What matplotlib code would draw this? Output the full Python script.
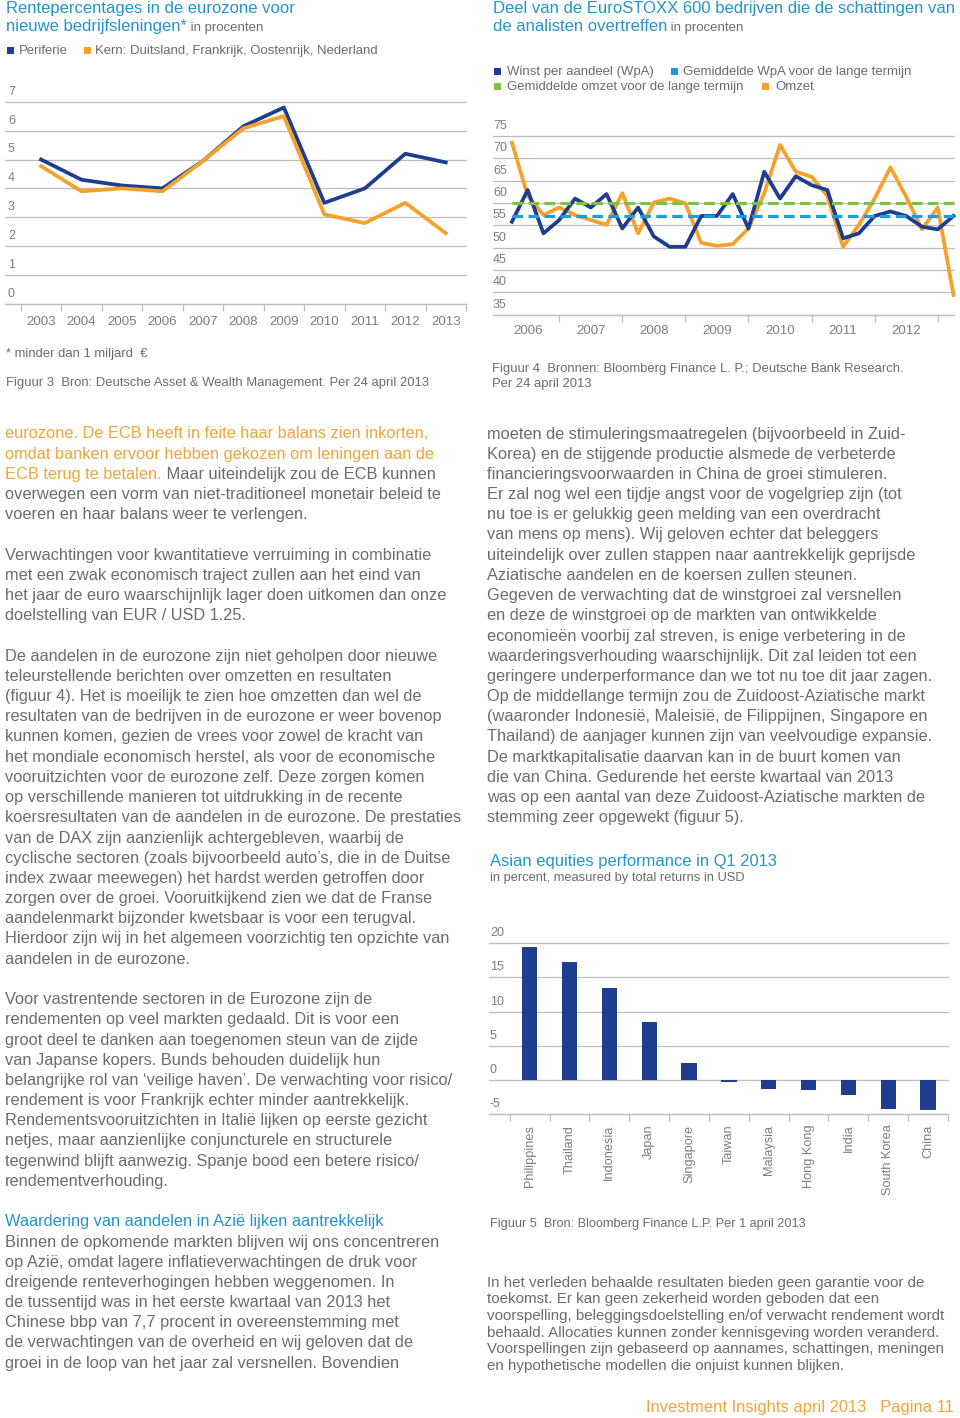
import matplotlib
matplotlib.use('Agg')
import matplotlib.pyplot as plt
from matplotlib.patches import Rectangle

# ---------------- DATA ----------------
years1 = ['2003', '2004', '2005', '2006', '2007', '2008', '2009', '2010', '2011', '2012', '2013']
periferie = [5.0, 4.3, 4.1, 4.0, 4.95, 6.15, 6.8, 3.5, 4.0, 5.2, 4.9]
kern = [4.77, 3.9, 4.0, 3.9, 4.95, 6.08, 6.5, 3.1, 2.8, 3.5, 2.45]
yticks1 = [0, 1, 2, 3, 4, 5, 6, 7]

quarters = ['2006Q2', '2006Q3', '2006Q4',
            '2007Q1', '2007Q2', '2007Q3', '2007Q4',
            '2008Q1', '2008Q2', '2008Q3', '2008Q4',
            '2009Q1', '2009Q2', '2009Q3', '2009Q4',
            '2010Q1', '2010Q2', '2010Q3', '2010Q4',
            '2011Q1', '2011Q2', '2011Q3', '2011Q4',
            '2012Q1', '2012Q2', '2012Q3', '2012Q4',
            '2013Q1', '2013Q2']
wpa = [55.8, 62.9, 53.2, 56.2, 61.0, 59.0, 62.0, 54.3, 59.0, 52.5, 50.2,
       50.2, 57.1, 57.1, 62.0, 54.3, 67.0, 61.0, 66.0, 64.0, 62.9, 52.1,
       53.2, 57.1, 58.1, 57.1, 54.7, 54.1, 57.1]
omzet = [73.5, 61.6, 57.3, 59.0, 57.3, 56.2, 55.1, 62.2, 53.2, 60.1, 61.0,
         59.9, 51.1, 50.4, 50.8, 54.3, 62.2, 73.0, 67.0, 65.9, 61.6, 50.2,
         55.1, 61.0, 68.0, 61.4, 54.1, 59.0, 39.4]
avg_wpa = 57.1
avg_omzet = 60.0
years2 = ['2006', '2007', '2008', '2009', '2010', '2011', '2012']
yticks2 = [35, 40, 45, 50, 55, 60, 65, 70, 75]

countries = ['Philippines', 'Thailand', 'Indonesia', 'Japan', 'Singapore', 'Taiwan',
             'Malaysia', 'Hong Kong', 'India', 'South Korea', 'China']
returns = [19.4, 17.2, 13.4, 8.5, 2.5, -0.3, -1.3, -1.4, -2.2, -4.2, -4.3]
yticks3 = [-5, 0, 5, 10, 15, 20]

# ---------------- STYLE ----------------
W, H = 960, 1418
plt.rcParams['font.family'] = ['Liberation Sans', 'DejaVu Sans']
LIGHT = 'normal'

TXT = '#6a6c6f'
HEAD = '#2394cd'
ORANGE = '#f5a12a'
ORANGE_TXT = '#eea53a'
NAVY = '#1f3d8f'
GRID = '#bcbcbc'
TICK = '#7b7d80'
LBLUE = '#1c9be2'
GREEN = '#7bc143'

fig = plt.figure(figsize=(W / 100, H / 100), dpi=100)
fig.patch.set_facecolor('white')
renderer = fig.canvas.get_renderer()


def measure(s, size, weight):
    t = fig.text(0, 0, s, fontsize=size, fontweight=weight)
    w = t.get_window_extent(renderer).width
    t.remove()
    return w


def fit(s, target, weight=LIGHT):
    return 10.0 * target / measure(s, 10.0, weight)


def base_from_center(yc, size):
    return yc + 0.27 * size * 100 / 72


def line(x, yb, segs, size, weight=LIGHT, ha='left'):
    cur = x
    for s, c, sz in segs:
        t = fig.text(cur / W, 1 - yb / H, s, fontsize=sz if sz else size, color=c,
                     fontweight=weight, va='baseline', ha=ha)
        cur = t.get_window_extent(renderer).x1
    return cur


def square(x, yc, s, color):
    fig.add_artist(Rectangle((x / W, 1 - (yc + s / 2) / H), s / W, s / H,
                             transform=fig.transFigure, color=color, lw=0))


def add_ax(x0, y0, x1, y1):
    ax = fig.add_axes([x0 / W, 1 - y1 / H, (x1 - x0) / W, (y1 - y0) / H])
    ax.set_facecolor('none')
    for s in ['top', 'right', 'left']:
        ax.spines[s].set_visible(False)
    ax.spines['bottom'].set_color(GRID)
    ax.spines['bottom'].set_linewidth(0.9)
    ax.tick_params(axis='y', length=0, labelleft=False)
    return ax


def ylabels(ax, ticks, dx, dy, size=9):
    for v in ticks:
        ax.axhline(v, color=GRID, lw=0.9, zorder=0, clip_on=False)
        ax.annotate(str(v), xy=(0, v), xycoords=ax.get_yaxis_transform(),
                    xytext=(dx, dy), textcoords='offset pixels', ha='left', va='center',
                    fontsize=size, color=TICK, fontweight=LIGHT)


# sizes
title_sz = fit('Rentepercentages in de eurozone voor', 289, 'normal')
small_sz = fit('in procenten', 73)
leg_sz = fit('Kern: Duitsland, Frankrijk, Oostenrijk, Nederland', 283)
cap_sz = fit('Figuur 3  Bron: Deutsche Asset & Wealth Management. Per 24 april 2013', 423)
body_sz = fit('eurozone. De ECB heeft in feite haar balans zien inkorten,', 423)
disc_sz = fit('voorspelling, beleggingsdoelstelling en/of verwacht rendement wordt', 459)
foot_sz = fit('Investment Insights april 2013   Pagina 11', 306)
tick_sz = 9.6

# ---------------- CHART 1 ----------------
line(6, base_from_center(9, title_sz), [('Rentepercentages in de eurozone voor', HEAD, None)], title_sz, 'normal')
e = line(6, base_from_center(27, title_sz), [('nieuwe bedrijfsleningen*', HEAD, None)], title_sz, 'normal')
line(e, base_from_center(27, title_sz), [(' in procenten', TXT, small_sz)], small_sz)
square(7, 50.5, 7, NAVY)
line(19, base_from_center(50.5, leg_sz), [('Periferie', TXT, None)], leg_sz)
square(84, 50.5, 7, ORANGE)
line(95, base_from_center(50.5, leg_sz), [('Kern: Duitsland, Frankrijk, Oostenrijk, Nederland', TXT, None)], leg_sz)

ax1 = add_ax(5, 101.7, 466, 304)
x1 = list(range(len(years1)))
ax1.plot(x1, periferie, color=NAVY, lw=2.7, zorder=3)
ax1.plot(x1, kern, color=ORANGE, lw=2.7, zorder=4)
ax1.set_xlim(-0.89, len(years1) - 0.5)
ax1.set_ylim(min(yticks1), max(yticks1))
ylabels(ax1, yticks1, 3, 10)
ax1.set_xticks([i - 0.5 for i in range(len(years1) + 1)])
ax1.set_xticks(x1, minor=True)
ax1.set_xticklabels(years1, minor=True)
ax1.tick_params(axis='x', which='major', length=5, color=GRID, width=0.9, labelbottom=False)
ax1.tick_params(axis='x', which='minor', length=0, pad=8.5, labelsize=tick_sz, labelcolor=TICK)

line(6, base_from_center(353, cap_sz), [('* minder dan 1 miljard  €', TXT, None)], cap_sz)
line(6, base_from_center(382, cap_sz), [('Figuur 3  Bron: Deutsche Asset & Wealth Management. Per 24 april 2013', TXT, None)], cap_sz)

# ---------------- CHART 2 ----------------
t2sz = fit('Deel van de EuroSTOXX 600 bedrijven die de schattingen van', 462, 'normal')
line(493, base_from_center(9, t2sz), [('Deel van de EuroSTOXX 600 bedrijven die de schattingen van', HEAD, None)], t2sz, 'normal')
e = line(493, base_from_center(27, t2sz), [('de analisten overtreffen', HEAD, None)], t2sz, 'normal')
line(e, base_from_center(27, t2sz), [(' in procenten', TXT, small_sz)], small_sz)
square(494, 71, 7, NAVY)
line(507, base_from_center(71, leg_sz), [('Winst per aandeel (WpA)', TXT, None)], leg_sz)
square(671, 71, 7, LBLUE)
line(683, base_from_center(71, leg_sz), [('Gemiddelde WpA voor de lange termijn', TXT, None)], leg_sz)
square(494, 86, 7, GREEN)
line(507, base_from_center(86, leg_sz), [('Gemiddelde omzet voor de lange termijn', TXT, None)], leg_sz)
square(762, 86, 7, ORANGE)
line(775, base_from_center(86, leg_sz), [('Omzet', TXT, None)], leg_sz)

ax2 = add_ax(493, 136, 953.5, 314.7)
xq = [int(q[:4]) + (int(q[-1]) - 1) / 4 for q in quarters]
ax2.plot(xq, omzet, color=ORANGE, lw=2.7, zorder=3, clip_on=False)
ax2.plot(xq, wpa, color=NAVY, lw=2.7, zorder=4, clip_on=False)
ax2.plot([xq[0], xq[-1]], [avg_omzet, avg_omzet], color=GREEN, lw=2.3,
         dashes=(3.3, 1.7), zorder=5, clip_on=False)
ax2.plot([xq[0], xq[-1]], [avg_wpa, avg_wpa], color=LBLUE, lw=2.3,
         dashes=(3.3, 1.7), zorder=5, clip_on=False)
ax2.set_xlim(2005.95, 2013.25)
ax2.set_ylim(min(yticks2), max(yticks2))
ylabels(ax2, yticks2, 0, 10)
ax2.set_xticks([int(y) + 1 for y in years2])
ax2.set_xticks([int(y) + 0.5 for y in years2], minor=True)
ax2.set_xticklabels(years2, minor=True)
ax2.tick_params(axis='x', which='major', length=5, color=GRID, width=0.9, labelbottom=False)
ax2.tick_params(axis='x', which='minor', length=0, pad=7.5, labelsize=tick_sz, labelcolor=TICK)

line(492, base_from_center(368, cap_sz), [('Figuur 4  Bronnen: Bloomberg Finance L. P.; Deutsche Bank Research.', TXT, None)], cap_sz)
line(492, base_from_center(383, cap_sz), [('Per 24 april 2013', TXT, None)], cap_sz)

# ---------------- BODY TEXT ----------------
O, G, B = ORANGE_TXT, TXT, HEAD
left = {
    0: [('eurozone. De ECB heeft in feite haar balans zien inkorten,', O)],
    1: [('omdat banken ervoor hebben gekozen om leningen aan de', O)],
    2: [('ECB terug te betalen.', O), (' Maar uiteindelijk zou de ECB kunnen', G)],
    3: [('overwegen een vorm van niet-traditioneel monetair beleid te', G)],
    4: [('voeren en haar balans weer te verlengen.', G)],
    6: [('Verwachtingen voor kwantitatieve verruiming in combinatie', G)],
    7: [('met een zwak economisch traject zullen aan het eind van', G)],
    8: [('het jaar de euro waarschijnlijk lager doen uitkomen dan onze', G)],
    9: [('doelstelling van EUR / USD 1.25.', G)],
    11: [('De aandelen in de eurozone zijn niet geholpen door nieuwe', G)],
    12: [('teleurstellende berichten over omzetten en resultaten', G)],
    13: [('(figuur 4). Het is moeilijk te zien hoe omzetten dan wel de', G)],
    14: [('resultaten van de bedrijven in de eurozone er weer bovenop', G)],
    15: [('kunnen komen, gezien de vrees voor zowel de kracht van', G)],
    16: [('het mondiale economisch herstel, als voor de economische', G)],
    17: [('vooruitzichten voor de eurozone zelf. Deze zorgen komen', G)],
    18: [('op verschillende manieren tot uitdrukking in de recente', G)],
    19: [('koersresultaten van de aandelen in de eurozone. De prestaties', G)],
    20: [('van de DAX zijn aanzienlijk achtergebleven, waarbij de', G)],
    21: [('cyclische sectoren (zoals bijvoorbeeld auto’s, die in de Duitse', G)],
    22: [('index zwaar meewegen) het hardst werden getroffen door', G)],
    23: [('zorgen over de groei. Vooruitkijkend zien we dat de Franse', G)],
    24: [('aandelenmarkt bijzonder kwetsbaar is voor een terugval.', G)],
    25: [('Hierdoor zijn wij in het algemeen voorzichtig ten opzichte van', G)],
    26: [('aandelen in de eurozone.', G)],
    28: [('Voor vastrentende sectoren in de Eurozone zijn de', G)],
    29: [('rendementen op veel markten gedaald. Dit is voor een', G)],
    30: [('groot deel te danken aan toegenomen steun van de zijde', G)],
    31: [('van Japanse kopers. Bunds behouden duidelijk hun', G)],
    32: [('belangrijke rol van ‘veilige haven’. De verwachting voor risico/', G)],
    33: [('rendement is voor Frankrijk echter minder aantrekkelijk.', G)],
    34: [('Rendementsvooruitzichten in Italië lijken op eerste gezicht', G)],
    35: [('netjes, maar aanzienlijke conjuncturele en structurele', G)],
    36: [('tegenwind blijft aanwezig. Spanje bood een betere risico/', G)],
    37: [('rendementverhouding.', G)],
    39: [('Waardering van aandelen in Azië lijken aantrekkelijk', B)],
    40: [('Binnen de opkomende markten blijven wij ons concentreren', G)],
    41: [('op Azië, omdat lagere inflatieverwachtingen de druk voor', G)],
    42: [('dreigende renteverhogingen hebben weggenomen. In', G)],
    43: [('de tussentijd was in het eerste kwartaal van 2013 het', G)],
    44: [('Chinese bbp van 7,7 procent in overeenstemming met', G)],
    45: [('de verwachtingen van de overheid en wij geloven dat de', G)],
    46: [('groei in de loop van het jaar zal versnellen. Bovendien', G)],
}
right = [
    'moeten de stimuleringsmaatregelen (bijvoorbeeld in Zuid-',
    'Korea) en de stijgende productie alsmede de verbeterde',
    'financieringsvoorwaarden in China de groei stimuleren.',
    'Er zal nog wel een tijdje angst voor de vogelgriep zijn (tot',
    'nu toe is er gelukkig geen melding van een overdracht',
    'van mens op mens). Wij geloven echter dat beleggers',
    'uiteindelijk over zullen stappen naar aantrekkelijk geprijsde',
    'Aziatische aandelen en de koersen zullen steunen.',
    'Gegeven de verwachting dat de winstgroei zal versnellen',
    'en deze de winstgroei op de markten van ontwikkelde',
    'economieën voorbij zal streven, is enige verbetering in de',
    'waarderingsverhouding waarschijnlijk. Dit zal leiden tot een',
    'geringere underperformance dan we tot nu toe dit jaar zagen.',
    'Op de middellange termijn zou de Zuidoost-Aziatische markt',
    '(waaronder Indonesië, Maleisië, de Filippijnen, Singapore en',
    'Thailand) de aanjager kunnen zijn van veelvoudige expansie.',
    'De marktkapitalisatie daarvan kan in de buurt komen van',
    'die van China. Gedurende het eerste kwartaal van 2013',
    'was op een aantal van deze Zuidoost-Aziatische markten de',
    'stemming zeer opgewekt (figuur 5).',
]
LH = 20.2
B0 = 438.5
for k, segs in left.items():
    line(5, B0 + LH * k, [(s, c, None) for s, c in segs], body_sz)
for k, s in enumerate(right):
    line(487, B0 + LH * k, [(s, G, None)], body_sz)

# ---------------- CHART 3 ----------------
h3 = fit('Asian equities performance in Q1 2013', 286, 'normal')
s3 = fit('in percent, measured by total returns in USD', 254)
line(490, base_from_center(862, h3), [('Asian equities performance in Q1 2013', HEAD, None)], h3, 'normal')
line(490, base_from_center(878, s3), [('in percent, measured by total returns in USD', TXT, None)], s3)

ax3 = add_ax(489, 943.3, 948, 1114.3)
xc = list(range(len(countries)))
ax3.bar(xc, returns, width=0.385, color=NAVY, zorder=3)
ax3.set_xlim(-1.02, len(countries) - 0.5)
ax3.set_ylim(min(yticks3), max(yticks3))
ylabels(ax3, yticks3, 1, 10)
ax3.set_xticks([i - 0.5 for i in range(len(countries) + 1)])
ax3.set_xticks(xc, minor=True)
ax3.set_xticklabels(countries, minor=True, rotation=90)
ax3.tick_params(axis='x', which='major', length=5, color=GRID, width=0.9, labelbottom=False)
ax3.tick_params(axis='x', which='minor', length=0, pad=7.5, labelsize=9.2, labelcolor=TICK)

f5 = fit('Figuur 5  Bron: Bloomberg Finance L.P. Per 1 april 2013', 318)
line(490, base_from_center(1224, f5), [('Figuur 5  Bron: Bloomberg Finance L.P. Per 1 april 2013', TXT, None)], f5)

disc = [
    'In het verleden behaalde resultaten bieden geen garantie voor de',
    'toekomst. Er kan geen zekerheid worden geboden dat een',
    'voorspelling, beleggingsdoelstelling en/of verwacht rendement wordt',
    'behaald. Allocaties kunnen zonder kennisgeving worden veranderd.',
    'Voorspellingen zijn gebaseerd op aannames, schattingen, meningen',
    'en hypothetische modellen die onjuist kunnen blijken.',
]
for k, s in enumerate(disc):
    line(487, base_from_center(1282.7 + 16.65 * k, disc_sz), [(s, TXT, None)], disc_sz)

fig.text(954 / W, 1 - base_from_center(1408, foot_sz) / H, 'Investment Insights april 2013   Pagina 11',
         fontsize=foot_sz, color=ORANGE_TXT, ha='right', va='baseline', fontweight=LIGHT)

fig.savefig('out.png', dpi=100, facecolor='white')
